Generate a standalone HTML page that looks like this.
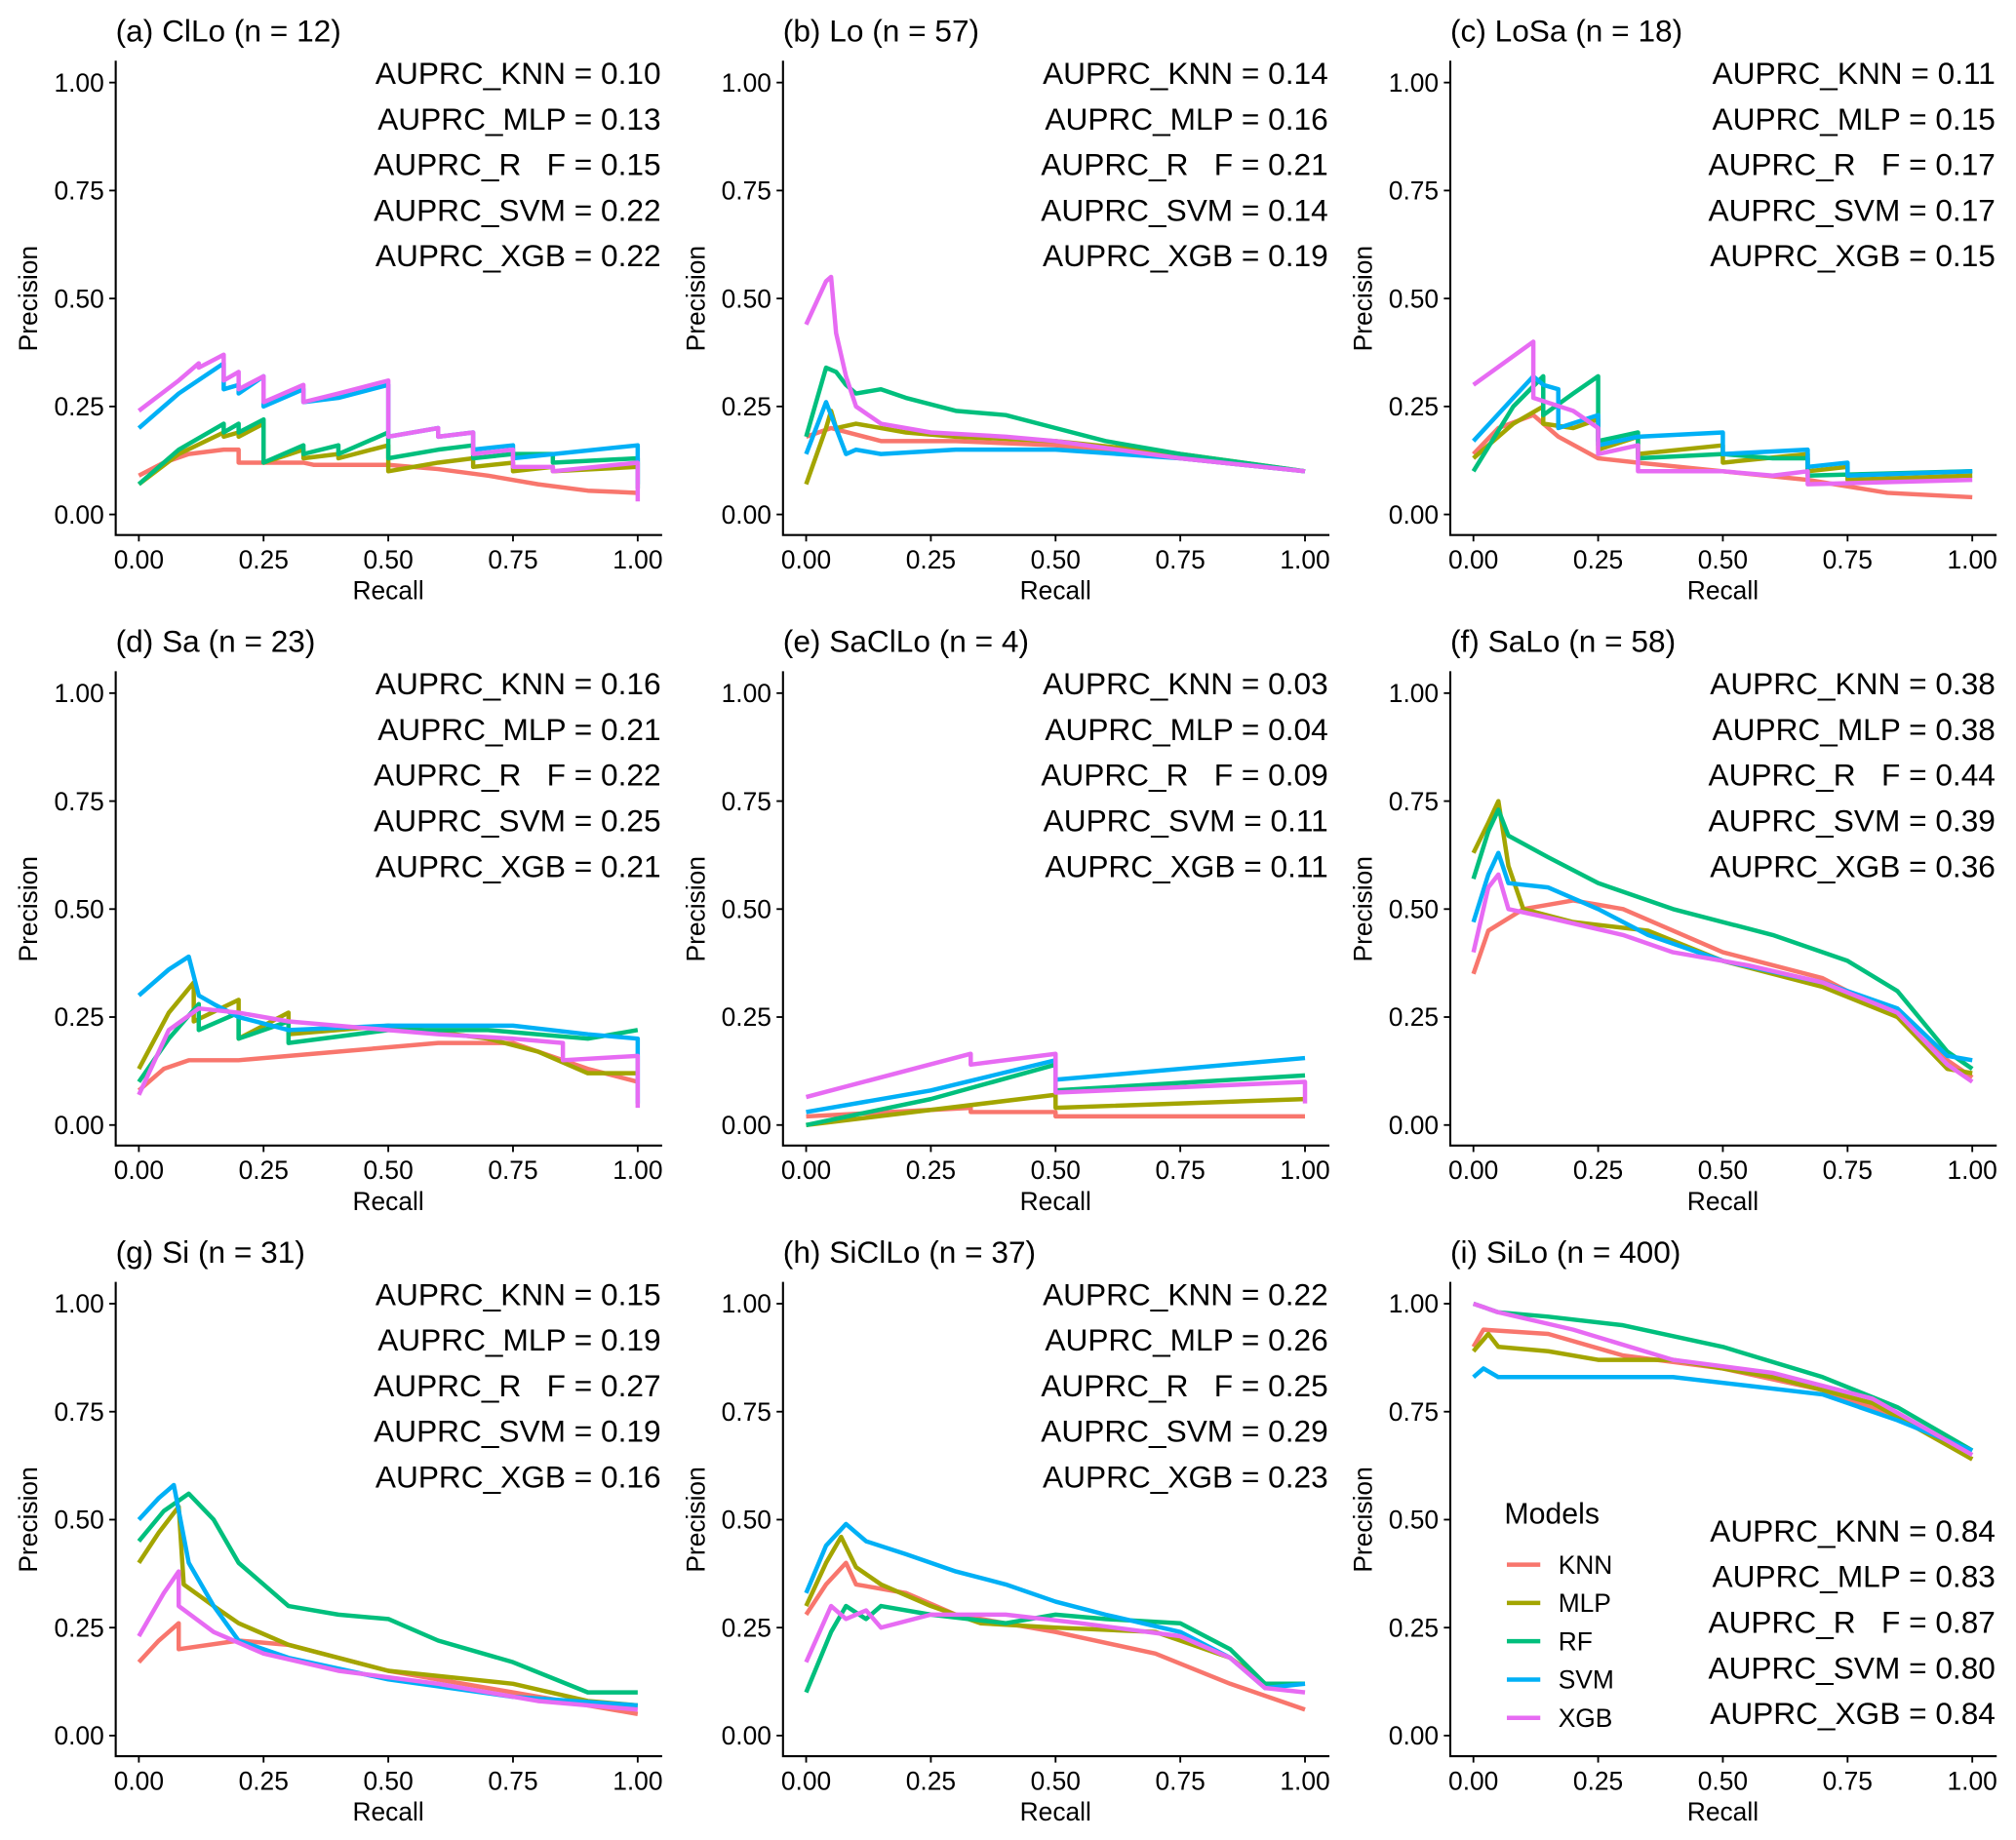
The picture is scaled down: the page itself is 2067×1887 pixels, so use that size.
<!DOCTYPE html>
<html><head><meta charset="utf-8"><style>
html,body{margin:0;padding:0;background:#fff}
svg{display:block}
text{font-family:"Liberation Sans",sans-serif;fill:#000}
</style></head><body>
<svg id="chart" width="2067" height="1887" viewBox="0 0 1568 1431" xmlns="http://www.w3.org/2000/svg"></svg>
<script>
const models = ["KNN","MLP","RF","SVM","XGB"];
const colors = ["#F8766D","#A3A500","#00BF7D","#00B0F6","#E76BF3"];
const panelTitles = ["(a) ClLo (n = 12)","(b) Lo (n = 57)","(c) LoSa (n = 18)","(d) Sa (n = 23)","(e) SaClLo (n = 4)","(f) SaLo (n = 58)","(g) Si (n = 31)","(h) SiClLo (n = 37)","(i) SiLo (n = 400)"];
const auprcValues = [
 ["0.10","0.13","0.15","0.22","0.22"],
 ["0.14","0.16","0.21","0.14","0.19"],
 ["0.11","0.15","0.17","0.17","0.15"],
 ["0.16","0.21","0.22","0.25","0.21"],
 ["0.03","0.04","0.09","0.11","0.11"],
 ["0.38","0.38","0.44","0.39","0.36"],
 ["0.15","0.19","0.27","0.19","0.16"],
 ["0.22","0.26","0.25","0.29","0.23"],
 ["0.84","0.83","0.87","0.80","0.84"]];
const auprcLabels = ["AUPRC_KNN = ","AUPRC_MLP = ","AUPRC_R   F = ","AUPRC_SVM = ","AUPRC_XGB = "];
const tickValues = [0,0.25,0.5,0.75,1];
const tickLabels = ["0.00","0.25","0.50","0.75","1.00"];

const curvesA = [
 [[0,0.09],[0.05,0.12],[0.1,0.14],[0.17,0.15],[0.2,0.15],[0.2,0.12],[0.33,0.12],[0.35,0.115],[0.5,0.115],[0.6,0.105],[0.7,0.09],[0.8,0.07],[0.9,0.055],[1,0.05]],
 [[0,0.07],[0.08,0.14],[0.17,0.19],[0.17,0.18],[0.2,0.19],[0.2,0.18],[0.25,0.21],[0.25,0.12],[0.33,0.15],[0.33,0.13],[0.4,0.14],[0.4,0.13],[0.5,0.16],[0.5,0.10],[0.6,0.12],[0.67,0.13],[0.67,0.11],[0.75,0.12],[0.75,0.10],[0.83,0.11],[0.83,0.10],[1,0.11]],
 [[0,0.07],[0.08,0.15],[0.17,0.21],[0.17,0.19],[0.2,0.21],[0.2,0.19],[0.25,0.22],[0.25,0.12],[0.33,0.16],[0.33,0.14],[0.4,0.16],[0.4,0.14],[0.5,0.19],[0.5,0.13],[0.6,0.15],[0.67,0.16],[0.67,0.13],[0.75,0.14],[0.83,0.14],[0.83,0.12],[1,0.13],[1,0.06]],
 [[0,0.2],[0.08,0.28],[0.17,0.35],[0.17,0.29],[0.2,0.30],[0.2,0.28],[0.25,0.32],[0.25,0.25],[0.33,0.29],[0.33,0.26],[0.4,0.27],[0.5,0.30],[0.5,0.18],[0.6,0.20],[0.6,0.18],[0.67,0.19],[0.67,0.15],[0.75,0.16],[0.75,0.13],[1,0.16],[1,0.07]],
 [[0,0.24],[0.08,0.31],[0.12,0.35],[0.12,0.34],[0.17,0.37],[0.17,0.31],[0.2,0.33],[0.2,0.29],[0.25,0.32],[0.25,0.26],[0.33,0.30],[0.33,0.26],[0.4,0.28],[0.5,0.31],[0.5,0.18],[0.6,0.20],[0.6,0.18],[0.67,0.19],[0.67,0.14],[0.75,0.15],[0.75,0.11],[0.83,0.11],[0.83,0.10],[1,0.12],[1,0.03]]];
const curvesB = [
 [[0,0.18],[0.05,0.2],[0.15,0.17],[0.3,0.17],[0.5,0.16],[0.75,0.13],[1,0.10]],
 [[0,0.07],[0.04,0.2],[0.05,0.24],[0.06,0.2],[0.1,0.21],[0.2,0.19],[0.3,0.18],[0.5,0.17],[0.75,0.14],[1,0.1]],
 [[0,0.18],[0.04,0.34],[0.06,0.33],[0.08,0.3],[0.1,0.28],[0.15,0.29],[0.2,0.27],[0.3,0.24],[0.4,0.23],[0.5,0.2],[0.6,0.17],[0.75,0.14],[1,0.1]],
 [[0,0.14],[0.04,0.26],[0.06,0.2],[0.08,0.14],[0.1,0.15],[0.15,0.14],[0.3,0.15],[0.5,0.15],[0.75,0.13],[1,0.1]],
 [[0,0.44],[0.04,0.54],[0.05,0.55],[0.06,0.42],[0.08,0.32],[0.1,0.25],[0.15,0.21],[0.25,0.19],[0.4,0.18],[0.5,0.17],[0.75,0.13],[1,0.1]]];
const curvesC = [
 [[0,0.14],[0.05,0.2],[0.12,0.23],[0.17,0.18],[0.25,0.13],[0.33,0.12],[0.5,0.1],[0.67,0.08],[0.83,0.05],[1,0.04]],
 [[0,0.13],[0.08,0.21],[0.14,0.25],[0.14,0.21],[0.2,0.2],[0.25,0.22],[0.25,0.15],[0.33,0.18],[0.33,0.14],[0.5,0.16],[0.5,0.12],[0.67,0.14],[0.67,0.1],[0.75,0.11],[0.75,0.08],[1,0.09]],
 [[0,0.1],[0.08,0.25],[0.14,0.32],[0.14,0.23],[0.2,0.28],[0.25,0.32],[0.25,0.17],[0.33,0.19],[0.33,0.13],[0.5,0.14],[0.6,0.13],[0.67,0.13],[0.67,0.09],[1,0.1]],
 [[0,0.17],[0.08,0.27],[0.12,0.32],[0.14,0.3],[0.17,0.29],[0.17,0.2],[0.25,0.23],[0.25,0.16],[0.33,0.18],[0.5,0.19],[0.5,0.14],[0.67,0.15],[0.67,0.11],[0.75,0.12],[0.75,0.09],[1,0.1]],
 [[0,0.3],[0.06,0.35],[0.12,0.4],[0.12,0.27],[0.2,0.24],[0.25,0.2],[0.25,0.14],[0.33,0.16],[0.33,0.1],[0.5,0.1],[0.6,0.09],[0.67,0.1],[0.67,0.07],[1,0.08]]];
const curvesD = [
 [[0,0.08],[0.05,0.13],[0.1,0.15],[0.2,0.15],[0.4,0.17],[0.6,0.19],[0.75,0.19],[0.9,0.13],[1,0.1]],
 [[0,0.13],[0.06,0.26],[0.11,0.33],[0.11,0.24],[0.2,0.29],[0.2,0.2],[0.3,0.26],[0.3,0.21],[0.5,0.23],[0.7,0.2],[0.8,0.17],[0.9,0.12],[1,0.12]],
 [[0,0.1],[0.06,0.2],[0.12,0.28],[0.12,0.22],[0.2,0.26],[0.2,0.2],[0.3,0.24],[0.3,0.19],[0.5,0.22],[0.7,0.22],[0.9,0.2],[1,0.22]],
 [[0,0.3],[0.06,0.36],[0.1,0.39],[0.12,0.3],[0.15,0.28],[0.2,0.25],[0.3,0.22],[0.5,0.23],[0.75,0.23],[0.9,0.21],[1,0.2],[1,0.05]],
 [[0,0.07],[0.06,0.22],[0.12,0.27],[0.2,0.26],[0.3,0.24],[0.5,0.22],[0.6,0.21],[0.75,0.2],[0.85,0.19],[0.85,0.15],[1,0.16],[1,0.04]]];
const curvesE = [
 [[0,0.02],[0.25,0.035],[0.33,0.04],[0.33,0.03],[0.5,0.03],[0.5,0.02],[1,0.02]],
 [[0,0],[0.5,0.07],[0.5,0.04],[1,0.06]],
 [[0,0],[0.25,0.06],[0.5,0.14],[0.5,0.08],[1,0.115]],
 [[0,0.03],[0.25,0.08],[0.5,0.15],[0.5,0.105],[1,0.155]],
 [[0,0.065],[0.33,0.165],[0.33,0.14],[0.5,0.165],[0.5,0.075],[1,0.1],[1,0.05]]];
const curvesF = [
 [[0,0.35],[0.03,0.45],[0.1,0.5],[0.2,0.52],[0.3,0.5],[0.4,0.45],[0.5,0.4],[0.7,0.34],[0.85,0.25],[0.95,0.15],[1,0.11]],
 [[0,0.63],[0.03,0.7],[0.05,0.75],[0.07,0.6],[0.1,0.5],[0.2,0.47],[0.35,0.45],[0.5,0.38],[0.7,0.32],[0.85,0.25],[0.95,0.13],[1,0.12]],
 [[0,0.57],[0.03,0.68],[0.05,0.73],[0.07,0.67],[0.15,0.62],[0.25,0.56],[0.4,0.5],[0.6,0.44],[0.75,0.38],[0.85,0.31],[0.95,0.17],[1,0.13]],
 [[0,0.47],[0.03,0.58],[0.05,0.63],[0.07,0.56],[0.15,0.55],[0.25,0.5],[0.35,0.44],[0.5,0.38],[0.7,0.33],[0.85,0.27],[0.95,0.16],[1,0.15]],
 [[0,0.4],[0.03,0.55],[0.05,0.58],[0.07,0.5],[0.15,0.48],[0.3,0.44],[0.4,0.4],[0.55,0.37],[0.7,0.33],[0.85,0.26],[0.95,0.14],[1,0.1]]];
const curvesG = [
 [[0,0.17],[0.04,0.22],[0.08,0.26],[0.08,0.2],[0.2,0.22],[0.3,0.21],[0.5,0.15],[0.75,0.1],[1,0.05]],
 [[0,0.4],[0.04,0.47],[0.08,0.53],[0.09,0.35],[0.15,0.3],[0.2,0.26],[0.3,0.21],[0.5,0.15],[0.75,0.12],[0.9,0.08],[1,0.07]],
 [[0,0.45],[0.05,0.52],[0.1,0.56],[0.15,0.5],[0.2,0.4],[0.3,0.3],[0.4,0.28],[0.5,0.27],[0.6,0.22],[0.75,0.17],[0.9,0.1],[1,0.1]],
 [[0,0.5],[0.04,0.55],[0.07,0.58],[0.1,0.4],[0.15,0.3],[0.2,0.22],[0.3,0.18],[0.5,0.13],[0.75,0.09],[1,0.07]],
 [[0,0.23],[0.05,0.33],[0.08,0.38],[0.08,0.3],[0.15,0.24],[0.25,0.19],[0.4,0.15],[0.6,0.12],[0.8,0.08],[1,0.06]]];
const curvesH = [
 [[0,0.28],[0.04,0.35],[0.08,0.4],[0.1,0.35],[0.2,0.33],[0.3,0.28],[0.5,0.24],[0.7,0.19],[0.85,0.12],[1,0.06]],
 [[0,0.3],[0.04,0.4],[0.07,0.46],[0.1,0.39],[0.15,0.35],[0.25,0.3],[0.35,0.26],[0.5,0.25],[0.7,0.24],[0.85,0.18],[0.92,0.12],[1,0.12]],
 [[0,0.1],[0.05,0.24],[0.08,0.3],[0.12,0.27],[0.15,0.3],[0.25,0.28],[0.4,0.26],[0.5,0.28],[0.6,0.27],[0.75,0.26],[0.85,0.2],[0.92,0.12],[1,0.12]],
 [[0,0.33],[0.04,0.44],[0.08,0.49],[0.12,0.45],[0.2,0.42],[0.3,0.38],[0.4,0.35],[0.5,0.31],[0.6,0.28],[0.75,0.24],[0.85,0.18],[0.92,0.11],[1,0.12]],
 [[0,0.17],[0.05,0.3],[0.08,0.27],[0.12,0.29],[0.15,0.25],[0.25,0.28],[0.4,0.28],[0.55,0.26],[0.75,0.23],[0.85,0.18],[0.92,0.11],[1,0.1]]];
const curvesI = [
 [[0,0.9],[0.02,0.94],[0.15,0.93],[0.3,0.88],[0.5,0.85],[0.7,0.8],[0.85,0.74],[1,0.64]],
 [[0,0.89],[0.03,0.93],[0.05,0.9],[0.15,0.89],[0.25,0.87],[0.4,0.87],[0.6,0.83],[0.8,0.77],[1,0.64]],
 [[0,1],[0.05,0.98],[0.15,0.97],[0.3,0.95],[0.5,0.9],[0.7,0.83],[0.85,0.76],[1,0.66]],
 [[0,0.83],[0.02,0.85],[0.05,0.83],[0.2,0.83],[0.4,0.83],[0.55,0.81],[0.7,0.79],[0.85,0.73],[1,0.66]],
 [[0,1],[0.05,0.98],[0.2,0.94],[0.4,0.87],[0.6,0.84],[0.8,0.78],[1,0.65]]];
const allCurves = [curvesA,curvesB,curvesC,curvesD,curvesE,curvesF,curvesG,curvesH,curvesI];

const NS = "http://www.w3.org/2000/svg";
const svg = document.getElementById("chart");
function mk(tag, attrs, parent){
  const e = document.createElementNS(NS, tag);
  for (const k in attrs) e.setAttribute(k, attrs[k]);
  parent.appendChild(e);
  return e;
}
for (let p = 0; p < 9; p++) {
  const ox = (p % 3) * 519, oy = Math.floor(p / 3) * 475;
  const g = mk("g", {transform: `translate(${ox},${oy})`}, svg);
  
  
  const sx = v => 108 + v * 388;
  const sy = v => 400 - v * 336;
  const t = mk("text", {x: 90, y: 32, "font-size": 24}, g);
  t.textContent = panelTitles[p];
  
  
  const ax = mk("path", {d: "M90,47 V416 H515", fill: "none", stroke: "#000", "stroke-width": 1.6}, g);
  
  
  for (let i = 0; i < tickValues.length; i++) {
    const v = tickValues[i];
    mk("line", {x1: 85, x2: 90, y1: sy(v), y2: sy(v), stroke: "#000", "stroke-width": 1.4}, g);
    const yl = mk("text", {x: 81, y: sy(v) + 7, "font-size": 20, "text-anchor": "end"}, g);
    yl.textContent = tickLabels[i];
    
    
    mk("line", {x1: sx(v), x2: sx(v), y1: 416, y2: 421, stroke: "#000", "stroke-width": 1.4}, g);
    const xl = mk("text", {x: sx(v), y: 442, "font-size": 20, "text-anchor": "middle"}, g);
    xl.textContent = tickLabels[i];
    
    
  }
  const xt = mk("text", {x: 302, y: 466, "font-size": 20, "text-anchor": "middle"}, g);
  xt.textContent = "Recall";
  
  
  const yt = mk("text", {x: 0, y: 0, "font-size": 20, "text-anchor": "middle", transform: "translate(29,232) rotate(-90)"}, g);
  yt.textContent = "Precision";
  
  
  const curves = allCurves[p];
  for (let m = 0; m < 5; m++) {
    const d = curves[m].map((pt, i) => (i ? "L" : "M") + sx(pt[0]).toFixed(1) + "," + sy(pt[1]).toFixed(1)).join(" ");
    const line = mk("path", {d: d, fill: "none", stroke: colors[m], "stroke-width": 3.4, "stroke-linejoin": "round"}, g);
    
    
  }
  const baseY = p === 8 ? 1199 - 950 : 65;
  for (let m = 0; m < 5; m++) {
    const a = mk("text", {x: 514, y: baseY + m * 35.5, "font-size": 24, "text-anchor": "end", "xml:space": "preserve", style: "white-space:pre"}, g);
    a.textContent = auprcLabels[m] + auprcValues[p][m];
    
    
  }
  if (p === 8) {
    const lg = mk("g", {}, g);
    
    
    const lt = mk("text", {x: 132, y: 1185 - 950, "font-size": 23}, lg);
    lt.textContent = "Models";
    
    
    for (let m = 0; m < 5; m++) {
      const y = 1217 - 950 + m * 29.8;
      const ll = mk("line", {x1: 134, x2: 160, y1: y, y2: y, stroke: colors[m], "stroke-width": 3.4}, lg);
      
      
      const tx = mk("text", {x: 174, y: y + 7, "font-size": 20}, lg);
      tx.textContent = models[m];
      
      
    }
  }
}
</script>
</body></html>
